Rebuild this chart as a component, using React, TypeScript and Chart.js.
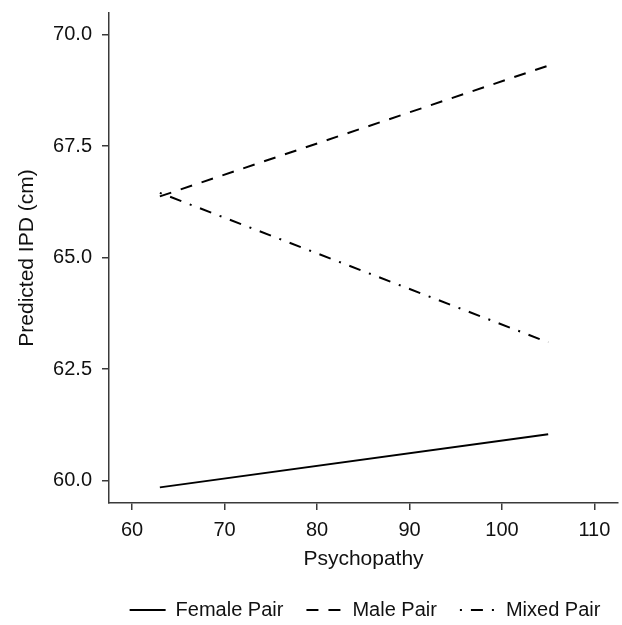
import React, { useEffect, useRef } from "react";
import { Chart, registerables } from "chart.js";

Chart.register(...registerables);

const psychopathy = [63, 105];
const femalePair = [59.85, 61.04];
const malePair = [66.37, 69.3];
const mixedPair = [66.45, 63.1];
const seriesNames = ["Female Pair", "Male Pair", "Mixed Pair"];
const seriesDashes = [[], [12, 10], [2, 9, 12, 9]];
const xTicks = [60, 70, 80, 90, 100, 110];
const yTicks = [60, 62.5, 65, 67.5, 70];

const FONT = "'Liberation Sans', Arial, sans-serif";
const TEXT = "#111111";
const AXIS = "#3a3a3a";

const legendShift = {
  id: "legendShift",
  afterLayout(chart: any) {
    const l = chart.legend;
    if (!l) return;
    const dx = 56;
    const dy = 5;
    l.left += dx;
    l.right += dx;
    l.top += dy;
    l.bottom += dy;
  },
};

export default function App() {
  const ref = useRef<HTMLCanvasElement>(null);
  useEffect(() => {
    if (!ref.current) return;
    const toPts = (ys: number[]) => psychopathy.map((x, i) => ({ x, y: ys[i] }));
    const seriesValues = [femalePair, malePair, mixedPair];
    const chart = new Chart(ref.current, {
      type: "line",
      data: {
        datasets: seriesNames.map((name, i) => ({
          label: name,
          data: toPts(seriesValues[i]),
          borderColor: "#000",
          borderWidth: 2,
          pointRadius: 0,
          borderDash: seriesDashes[i],
        })),
      },
      options: {
        animation: false,
        responsive: false,
        layout: { padding: { top: 13, right: 4, left: 0, bottom: 0 } },
        plugins: {
          tooltip: { enabled: false },
          legend: {
            position: "bottom",
            labels: {
              usePointStyle: true,
              pointStyle: "line",
              pointStyleWidth: 36,
              boxWidth: 36,
              padding: 23,
              color: TEXT,
              font: { family: FONT, size: 20 },
              generateLabels: (c: any) => {
                const items = Chart.defaults.plugins.legend.labels.generateLabels(c);
                return items.map((it: any, i: number) => ({
                  ...it,
                  lineDash: seriesDashes[i],
                  lineWidth: 2,
                  strokeStyle: "#000",
                  fillStyle: "#000",
                }));
              },
            },
          },
        },
        scales: {
          x: {
            type: "linear",
            min: 57.5,
            max: 112.55,
            afterFit: (s: any) => {
              s.height = 69;
            },
            afterBuildTicks: (s: any) => {
              s.ticks = xTicks.map((v) => ({ value: v }));
            },
            grid: {
              drawOnChartArea: false,
              drawTicks: true,
              tickLength: 7,
              tickColor: AXIS,
              lineWidth: 1.5,
            },
            border: { display: true, color: AXIS, width: 1.5 },
            ticks: {
              padding: 8,
              color: TEXT,
              font: { family: FONT, size: 20 },
              callback: (v: any) => String(v),
            },
            title: {
              display: true,
              text: "Psychopathy",
              color: TEXT,
              font: { family: FONT, size: 21 },
              padding: { top: 0, bottom: 0 },
            },
          },
          y: {
            type: "linear",
            min: 59.5,
            max: 70.48,
            afterFit: (s: any) => {
              s.width = 109;
              s.paddingTop = 0;
              s.paddingBottom = 0;
            },
            afterBuildTicks: (s: any) => {
              s.ticks = yTicks.map((v) => ({ value: v }));
            },
            grid: {
              drawOnChartArea: false,
              drawTicks: true,
              tickLength: 7,
              tickColor: AXIS,
              lineWidth: 1.5,
            },
            border: { display: true, color: AXIS, width: 1.5 },
            ticks: {
              padding: 10,
              color: TEXT,
              font: { family: FONT, size: 20 },
              callback: (v: any) => Number(v).toFixed(1),
            },
            title: {
              display: true,
              text: "Predicted IPD (cm)",
              color: TEXT,
              font: { family: FONT, size: 21 },
              padding: { top: 15, bottom: 0 },
            },
          },
        },
      },
      plugins: [legendShift],
    });
    return () => chart.destroy();
  }, []);
  return (
    <div style={{ position: "absolute", left: 0, top: 0, width: 622, height: 625, background: "#fff" }}>
      <canvas ref={ref} width={622} height={625} style={{ display: "block" }} />
    </div>
  );
}
